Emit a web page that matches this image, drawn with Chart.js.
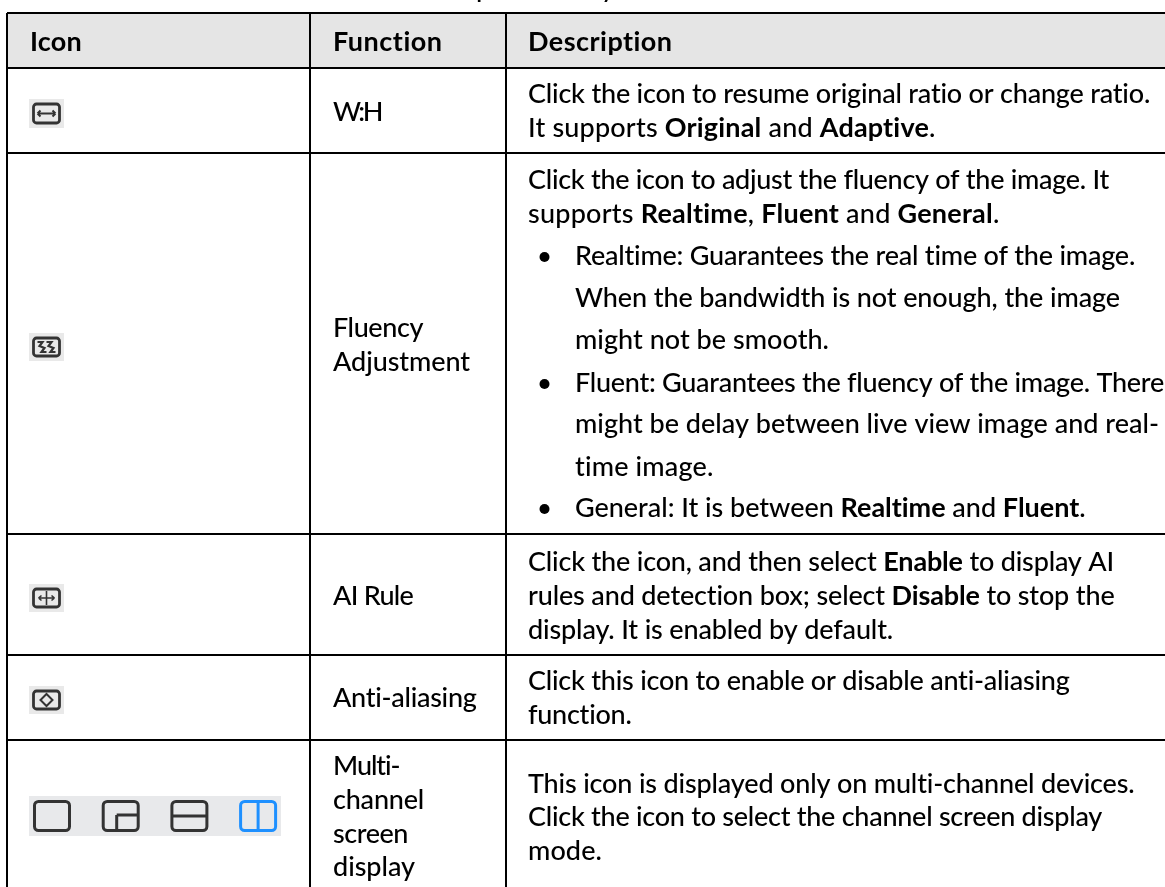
<!DOCTYPE html>
<html>
<head>
<meta charset="utf-8">
<style>
  html, body { margin: 0; padding: 0; background: #fff; overflow: hidden; }
  #box { position: absolute; left: 0; top: 0; width: 1165px; height: 887px; }
</style>
<script src="https://cdn.jsdelivr.net/npm/chart.js@4"></script>
</head>
<body>
<div id="box"><canvas id="tabla"></canvas></div>
<script>
// contenido de la tabla
const headers = ['Icon', 'Function', 'Description'];
const functionLines = [
    ['W:H'],
    ['Fluency', 'Adjustment'],
    ['AI Rule'],
    ['Anti-aliasing'],
    ['Multi-', 'channel', 'screen', 'display']
];
// ** marca negrita, "• " marca punto de lista
const descriptionLines = [
    ['Click the icon to resume original ratio or change ratio.', 'It supports **Original** and **Adaptive**.'],
    ['Click the icon to adjust the fluency of the image. It', 'supports **Realtime**, **Fluent** and **General**.',
     '• Realtime: Guarantees the real time of the image.', '  When the bandwidth is not enough, the image', '  might not be smooth.',
     '• Fluent: Guarantees the fluency of the image. There', '  might be delay between live view image and real-', '  time image.',
     '• General: It is between **Realtime** and **Fluent**.'],
    ['Click the icon, and then select **Enable** to display AI', 'rules and detection box; select **Disable** to stop the', 'display. It is enabled by default.'],
    ['Click this icon to enable or disable anti-aliasing', 'function.'],
    ['This icon is displayed only on multi-channel devices.', 'Click the icon to select the channel screen display', 'mode.']
];
const iconNames = [['ratio'], ['fluency'], ['rule'], ['alias'], ['single', 'pip', 'rows', 'cols']];

// bordes de la tabla, en pixeles de la pagina
const columnEdges = [7, 310, 506];
const rowEdges = [13, 68, 153, 534, 655, 740];

// donde cae cada linea de texto (base y final de linea)
const headerBaseline = 51;
const headerEnds = [82, 443, 673];
const functionBaselines = [[121], [337, 371], [605], [707], [775, 809, 843, 876]];
const functionEnds = [[381], [423, 470], [413], [477], [400, 424, 408, 415]];
const descriptionBaselines = [
    [103, 137],
    [189, 223, 265, 307, 349, 392, 433, 476, 517],
    [571, 605, 639],
    [690, 724],
    [793, 826, 860]
];
const descriptionEnds = [
    [1151, 936],
    [1109, 1000, 1136, 1120, 829, 1164, 1159, 714, 1086],
    [1114, 1115, 893],
    [1070, 632],
    [1135, 1102, 602]
];
const iconBoxes = [
    { x: 29, y: 99, w: 35, h: 29 },
    { x: 29, y: 333, w: 35, h: 28 },
    { x: 29, y: 584, w: 35, h: 28 },
    { x: 29, y: 686, w: 35, h: 28 },
    { x: 29, y: 796, w: 252, h: 40 }
];

const FONT = 'Lato';
const FONT_SIZE = 27;

// escribe una linea con tramos en negrita y la ajusta hasta el final medido
function drawRuns(ctx, text, x, y, end) {
    const parts = text.split('**');
    ctx.letterSpacing = '0px';
    let natural = 0;
    parts.forEach((part, i) => {
        ctx.font = (i % 2 ? '700 ' : '500 ') + FONT_SIZE + 'px ' + FONT;
        natural += ctx.measureText(part).width;
    });
    const chars = parts.join('').length;
    const spacing = (end - x - natural) / chars;
    ctx.letterSpacing = spacing + 'px';
    parts.forEach((part, i) => {
        ctx.font = (i % 2 ? '700 ' : '500 ') + FONT_SIZE + 'px ' + FONT;
        ctx.fillText(part, x, y);
        x += ctx.measureText(part).width;
    });
    ctx.letterSpacing = '0px';
}

function frame(ctx, x, y, w, h, color, lw, r) {
    ctx.strokeStyle = color;
    ctx.lineWidth = lw;
    ctx.beginPath();
    ctx.roundRect(x, y, w, h, r);
    ctx.stroke();
}

function segs(ctx, list) {
    ctx.beginPath();
    list.forEach(s => { ctx.moveTo(s[0], s[1]); ctx.lineTo(s[2], s[3]); });
    ctx.stroke();
}

function drawSmallIcon(ctx, name, b) {
    const dark = '#333333';
    ctx.fillStyle = '#e9e9e9';
    ctx.fillRect(b.x, b.y, b.w, b.h);
    frame(ctx, b.x + 4.5, b.y + 5, b.w - 9, b.h - 10, dark, 2.8, 3);
    const cx = b.x + b.w / 2, cy = b.y + b.h / 2;
    ctx.strokeStyle = dark;
    ctx.fillStyle = dark;
    ctx.lineWidth = 2;
    if (name === 'ratio') {
        segs(ctx, [[cx - 9, cy, cx + 9, cy], [cx - 9, cy, cx - 6, cy - 3], [cx - 9, cy, cx - 6, cy + 3], [cx + 9, cy, cx + 6, cy - 3], [cx + 9, cy, cx + 6, cy + 3]]);
    } else if (name === 'fluency') {
        ctx.lineWidth = 2.2;
        [-8, 1].forEach(d => {
            ctx.beginPath();
            ctx.moveTo(cx + d - 1, cy - 5);
            ctx.lineTo(cx + d + 4, cy - 5);
            ctx.lineTo(cx + d + 1, cy - 1);
            ctx.lineTo(cx + d + 6, cy + 1);
            ctx.lineTo(cx + d + 3, cy + 5);
            ctx.lineTo(cx + d + 8, cy + 5);
            ctx.stroke();
        });
    } else if (name === 'rule') {
        ctx.lineWidth = 1.6;
        segs(ctx, [[cx, cy - 7, cx, cy + 7], [cx - 8, cy, cx + 8, cy], [cx - 8, cy, cx - 5, cy - 2.5], [cx - 8, cy, cx - 5, cy + 2.5], [cx + 8, cy, cx + 5, cy - 2.5], [cx + 8, cy, cx + 5, cy + 2.5]]);
    } else if (name === 'alias') {
        ctx.beginPath();
        ctx.moveTo(cx, cy - 6);
        ctx.lineTo(cx + 6, cy);
        ctx.lineTo(cx, cy + 6);
        ctx.lineTo(cx - 6, cy);
        ctx.closePath();
        ctx.stroke();
    }
}

function drawModeIcons(ctx, b) {
    const dark = '#333333', blue = '#1e90ff';
    ctx.fillStyle = '#e8e9eb';
    ctx.fillRect(b.x, b.y, b.w, b.h);
    const step = 68.7, w = 35, h = 29, y = b.y + 5.5;
    iconNames[4].forEach((name, i) => {
        const x = b.x + 5.5 + i * step;
        const c = name === 'cols' ? blue : dark;
        frame(ctx, x, y, w, h, c, 3, 4);
        ctx.strokeStyle = c;
        ctx.lineWidth = 3;
        if (name === 'pip') segs(ctx, [[x + 13.5, y + h, x + 13.5, y + 13.5], [x + 13.5, y + 13.5, x + w, y + 13.5]]);
        if (name === 'rows') segs(ctx, [[x, y + h / 2, x + w, y + h / 2]]);
        if (name === 'cols') segs(ctx, [[x + w / 2, y, x + w / 2, y + h]]);
    });
}

// plugin que dibuja textos e iconos usando las escalas del grafico
const tablePlugin = {
    id: 'tablePlugin',
    afterDraw(chart) {
        const { ctx, scales: { x: sx, y: sy } } = chart;
        const px = v => sx.getPixelForValue(v);
        const py = v => sy.getPixelForValue(v);
        ctx.save();
        ctx.textBaseline = 'alphabetic';
        ctx.fillStyle = '#000';

        // colas de la linea de arriba, cortada en la imagen
        ctx.font = '500 ' + FONT_SIZE + 'px ' + FONT;
        ctx.fillText('p', px(476), py(-3));
        ctx.fillText('y', px(601), py(-3));

        const textX = [30, 333, 528];
        headers.forEach((h, i) => drawRuns(ctx, '**' + h + '**', px(textX[i]), py(headerBaseline), px(headerEnds[i])));

        functionLines.forEach((lines, r) => {
            lines.forEach((line, l) => drawRuns(ctx, line, px(textX[1]), py(functionBaselines[r][l]), px(functionEnds[r][l])));
        });

        descriptionLines.forEach((lines, r) => {
            lines.forEach((line, l) => {
                const y = py(descriptionBaselines[r][l]);
                const end = px(descriptionEnds[r][l]);
                if (line.startsWith('• ')) {
                    ctx.beginPath();
                    ctx.arc(px(544.5), y - 8, 5, 0, Math.PI * 2);
                    ctx.fill();
                    drawRuns(ctx, line.slice(2), px(575), y, end);
                } else if (line.startsWith('  ')) {
                    drawRuns(ctx, line.slice(2), px(575), y, end);
                } else {
                    drawRuns(ctx, line, px(textX[2]), y, end);
                }
            });
        });

        iconNames.slice(0, 4).forEach((n, i) => drawSmallIcon(ctx, n[0], iconBoxes[i]));
        drawModeIcons(ctx, iconBoxes[4]);
        ctx.restore();
    }
};

new Chart(document.getElementById('tabla'), {
    type: 'scatter',
    data: {
        datasets: [{
            // banda gris del encabezado
            type: 'line',
            data: [{ x: columnEdges[0], y: rowEdges[0] }, { x: 1165, y: rowEdges[0] }],
            borderWidth: 0,
            pointRadius: 0,
            backgroundColor: '#e5e5e5',
            fill: { value: rowEdges[1] }
        }]
    },
    options: {
        responsive: true,
        maintainAspectRatio: false,
        animation: false,
        layout: { padding: { left: columnEdges[0], top: rowEdges[0], right: 0, bottom: 0 } },
        plugins: { legend: { display: false }, tooltip: { enabled: false } },
        scales: {
            x: {
                type: 'linear', min: columnEdges[0], max: 1165,
                border: { display: false },
                grid: { color: '#000', lineWidth: 2, z: 1, drawTicks: false, tickLength: 0 },
                ticks: { display: false },
                afterBuildTicks: s => { s.ticks = columnEdges.map(v => ({ value: v })); }
            },
            y: {
                type: 'linear', min: rowEdges[0], max: 887, reverse: true,
                border: { display: false },
                grid: { color: '#000', lineWidth: 2, z: 1, drawTicks: false, tickLength: 0 },
                ticks: { display: false },
                afterBuildTicks: s => { s.ticks = rowEdges.map(v => ({ value: v })); }
            }
        }
    },
    plugins: [tablePlugin]
});
</script>
</body>
</html>
